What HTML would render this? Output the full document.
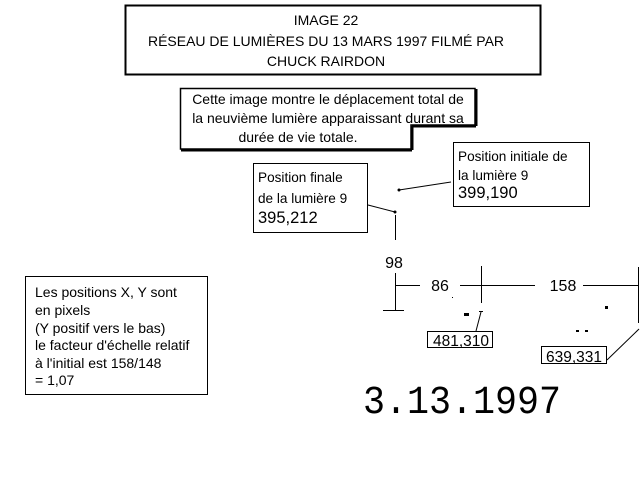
<!DOCTYPE html>
<html><head><meta charset="utf-8"><style>
body{margin:0;background:#fff;width:640px;height:480px;overflow:hidden}
svg{display:block}
text{font-family:"Liberation Sans",sans-serif;fill:#000}
text.mono{font-family:"Liberation Mono",monospace}
</style></head><body>
<svg width="640" height="480" viewBox="0 0 640 480">
<rect x="125.5" y="5.5" width="415" height="69" fill="none" stroke="#000" stroke-width="2"/>
<text x="326" y="25" font-size="14" text-anchor="middle">IMAGE 22</text>
<text x="326" y="46" font-size="14" text-anchor="middle">RÉSEAU DE LUMIÈRES DU 13 MARS 1997 FILMÉ PAR</text>
<text x="326" y="66" font-size="14" text-anchor="middle">CHUCK RAIRDON</text>

<path d="M180.5 88.5 H475 V125 H411 V149 H180.5 Z" fill="none" stroke="#000" stroke-width="1.5"/>
<path d="M476 89 V126 M412 126 V150 M181 150 H412 M412 126 H476" stroke="#000" stroke-width="3" fill="none"/>
<text x="328" y="104" font-size="14" text-anchor="middle">Cette image montre le déplacement total de</text>
<text x="328" y="123" font-size="14" text-anchor="middle">la neuvième lumière apparaissant durant sa</text>
<text x="298" y="142" font-size="14" text-anchor="middle">durée de vie totale.</text>

<rect x="253.5" y="163.5" width="114" height="69" fill="none" stroke="#000"/>
<text x="258" y="182" font-size="13.6">Position finale</text>
<text x="258" y="203" font-size="13.6">de la lumière 9</text>
<text x="258" y="223" font-size="16.5">395,212</text>

<rect x="453.5" y="142.5" width="136" height="64" fill="none" stroke="#000"/>
<text x="458" y="161" font-size="13.6">Position initiale de</text>
<text x="458" y="180" font-size="13.6">la lumière 9</text>
<text x="458" y="198" font-size="16.5">399,190</text>

<circle cx="399" cy="190" r="1.5"/>
<line x1="399" y1="190" x2="451" y2="182" stroke="#000"/>
<circle cx="395" cy="212" r="1.5"/>
<line x1="368" y1="205" x2="395" y2="212" stroke="#000"/>

<g stroke="#000" stroke-width="1">
<line x1="395.5" y1="215" x2="395.5" y2="240"/>
<line x1="395.5" y1="273" x2="395.5" y2="310"/>
<line x1="383" y1="310.5" x2="404" y2="310.5"/>
<line x1="395" y1="285.5" x2="420" y2="285.5"/>
<line x1="460" y1="285.5" x2="535" y2="285.5"/>
<line x1="583" y1="285.5" x2="638" y2="285.5"/>
<line x1="481.5" y1="266" x2="481.5" y2="303"/>
<line x1="638.5" y1="267" x2="638.5" y2="323"/>
<line x1="481" y1="312" x2="476" y2="331"/>
<line x1="479" y1="311.5" x2="483" y2="311.5"/>
<line x1="607" y1="360" x2="639" y2="329"/>
</g>
<text x="394" y="268" font-size="16" text-anchor="middle">98</text>
<text x="440" y="291" font-size="16" text-anchor="middle">86</text>
<text x="563" y="291" font-size="16" text-anchor="middle">158</text>

<rect x="464" y="313" width="5" height="3"/>
<rect x="605" y="306" width="3" height="3"/>
<rect x="576" y="330" width="3" height="2"/>
<rect x="585" y="330" width="3" height="2"/>
<rect x="452" y="297" width="1" height="1"/>

<rect x="427.5" y="331.5" width="65" height="16" fill="none" stroke="#000"/>
<text x="461" y="346" font-size="15.5" text-anchor="middle">481,310</text>
<rect x="541.5" y="346.5" width="65" height="17" fill="none" stroke="#000"/>
<text x="574" y="362" font-size="15.5" text-anchor="middle">639,331</text>

<rect x="25.5" y="276.5" width="182" height="118" fill="none" stroke="#000"/>
<text x="35" y="297" font-size="14">Les positions X, Y sont</text>
<text x="35" y="315" font-size="14">en pixels</text>
<text x="35" y="333" font-size="14">(Y positif vers le bas)</text>
<text x="35" y="350" font-size="14">le facteur d'échelle relatif</text>
<text x="35" y="368" font-size="14">à l'initial est 158/148</text>
<text x="35" y="385" font-size="14">= 1,07</text>

<text class="mono" x="363" y="413" font-size="40" textLength="198" lengthAdjust="spacingAndGlyphs">3.13.1997</text>
</svg>
</body></html>
